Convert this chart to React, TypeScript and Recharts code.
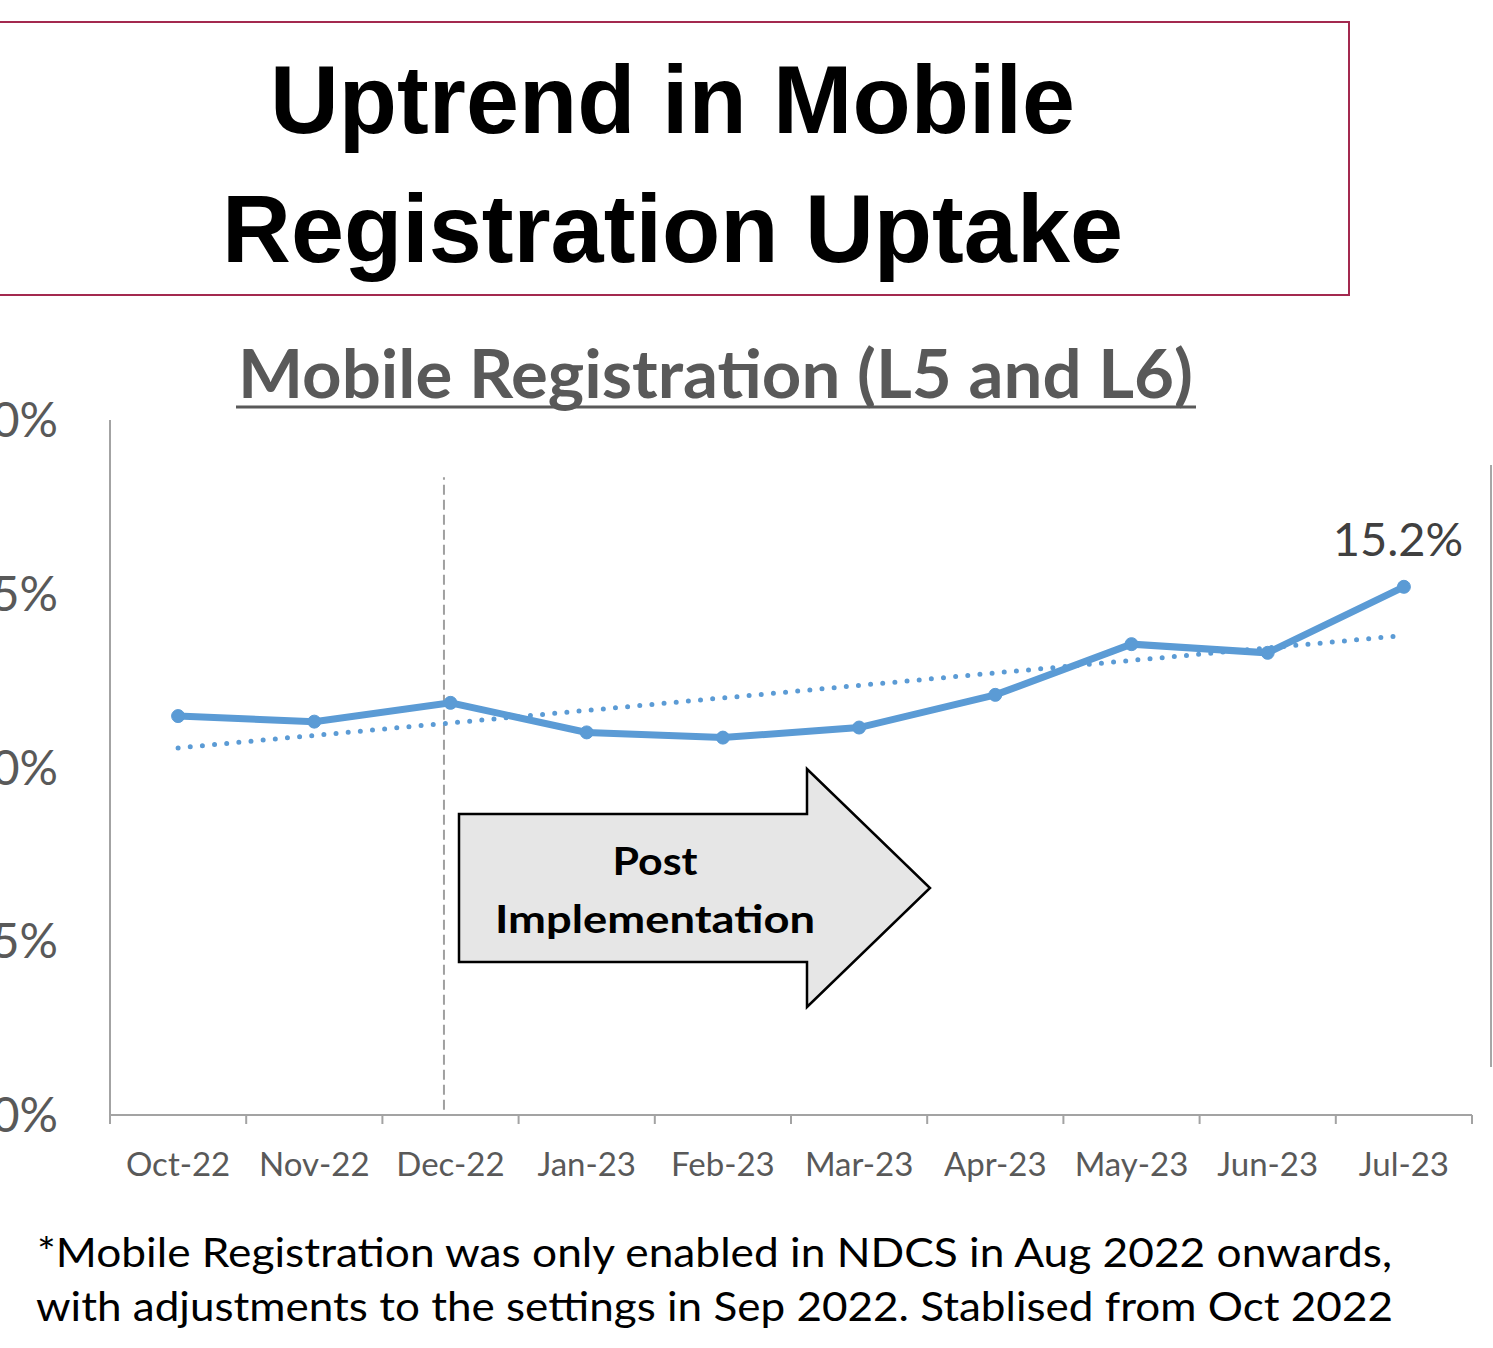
import React from "react";
import { LineChart, Line, XAxis, YAxis, ReferenceLine, LabelList } from "recharts";

const categories = ["Oct-22", "Nov-22", "Dec-22", "Jan-23", "Feb-23", "Mar-23", "Apr-23", "May-23", "Jun-23", "Jul-23"];
const registrationPct = [11.48, 11.32, 11.86, 11.01, 10.86, 11.15, 12.09, 13.55, 13.3, 15.2];
const yTicks = [0, 5, 10, 15, 20];
const xBoundaryTicks = [-0.5, 0.5, 1.5, 2.5, 3.5, 4.5, 5.5, 6.5, 7.5, 8.5, 9.5];
const implementationX = 1.952;
const implementationTop = 18.35;

// Linear (least-squares) trendline of the series, as in the source chart
const n = registrationPct.length;
const meanX = (n - 1) / 2;
const meanY = registrationPct.reduce((a, b) => a + b, 0) / n;
let sxy = 0;
let sxx = 0;
registrationPct.forEach((v, i) => {
  sxy += (i - meanX) * (v - meanY);
  sxx += (i - meanX) * (i - meanX);
});
const slope = sxy / sxx;
const intercept = meanY - slope * meanX;

const data = categories.map((c, i) => ({
  idx: i,
  month: c,
  value: registrationPct[i],
  trend: intercept + slope * i,
}));

const W = 1493;
const H = 1200;
const MARGIN = { top: 420, right: 21, left: 0, bottom: 0 };
const YAXIS_W = 110;
const BAND = (W - MARGIN.right - MARGIN.left - YAXIS_W) / categories.length;

const BLUE = "#5B9BD5";
const AXIS = "#A3A3A3";
const LABEL = "#595959";
const FONT = "Lato, 'Open Sans', sans-serif";

const XTick = (props: any) => {
  const { x, y, payload } = props;
  const i = Math.round(payload.value + 0.5);
  if (i < 0 || i >= categories.length) return <g />;
  return (
    <text
      x={x + BAND / 2}
      y={y + 39}
      textAnchor="middle"
      dominantBaseline="central"
      fill={LABEL}
      fontSize={33}
      fontFamily={FONT}
    >
      {categories[i]}
    </text>
  );
};

const LastLabel = (props: any) => {
  const { x, y, index, value } = props;
  if (index !== categories.length - 1) return null;
  return (
    <text
      x={x - 6}
      y={y - 49}
      textAnchor="middle"
      dominantBaseline="central"
      fill="#404040"
      fontSize={47}
      fontFamily={FONT}
    >
      {`${Number(value).toFixed(1)}%`}
    </text>
  );
};

export default function App() {
  return (
    <div
      style={{
        position: "absolute",
        left: 0,
        top: 0,
        width: W,
        height: 1348,
        overflow: "hidden",
        background: "#fff",
        fontFamily: FONT,
      }}
    >
      {/* Title box */}
      <div
        style={{
          position: "absolute",
          left: -6,
          top: 21,
          width: 1356,
          height: 275,
          border: "2px solid #A3294F",
          boxSizing: "border-box",
        }}
      />
      {/* right-edge partial border */}
      <div style={{ position: "absolute", left: 1490, top: 465, width: 2, height: 602, background: "#A6A6A6" }} />

      <div style={{ position: "absolute", left: 0, top: 0 }}>
        <LineChart width={W} height={H} data={data} margin={MARGIN}>
          <XAxis
            dataKey="idx"
            type="number"
            domain={[-0.5, 9.5]}
            ticks={xBoundaryTicks}
            interval={0}
            allowDecimals
            height={H - 1115}
            axisLine={{ stroke: AXIS, strokeWidth: 2 }}
            tickLine={{ stroke: AXIS, strokeWidth: 2 }}
            tickSize={9}
            tickMargin={0}
            tick={<XTick />}
          />
          <YAxis
            type="number"
            domain={[0, 20]}
            ticks={yTicks}
            interval={0}
            width={YAXIS_W}
            axisLine={{ stroke: AXIS, strokeWidth: 2 }}
            tickLine={false}
            tickSize={0}
            tickMargin={52}
            tickFormatter={(v: number) => `${v}%`}
            tick={{ fill: LABEL, fontSize: 48, fontFamily: FONT }}
          />
          <ReferenceLine
            segment={[
              { x: implementationX, y: 0.15 },
              { x: implementationX, y: implementationTop },
            ]}
            stroke="#A0A0A0"
            strokeWidth={2}
            strokeDasharray="10 5"
            ifOverflow="visible"
          />
          <Line
            dataKey="trend"
            stroke={BLUE}
            strokeWidth={5}
            strokeDasharray="0 12.2"
            strokeLinecap="round"
            dot={false}
            activeDot={false}
            isAnimationActive={false}
          />
          <Line
            dataKey="value"
            stroke={BLUE}
            strokeWidth={7}
            dot={{ r: 6.5, fill: BLUE, stroke: BLUE, strokeWidth: 1 }}
            activeDot={false}
            isAnimationActive={false}
          >
            <LabelList dataKey="value" content={<LastLabel />} />
          </Line>
        </LineChart>
      </div>

      <svg
        width={W}
        height={1348}
        style={{ position: "absolute", left: 0, top: 0, pointerEvents: "none" }}
      >
        <text
          x={270}
          y={133}
          textLength={805}
          lengthAdjust="spacingAndGlyphs"
          fontFamily="'Liberation Sans', Arial, sans-serif"
          fontWeight="bold"
          fontSize={97}
          fill="#000"
        >
          Uptrend in Mobile
        </text>
        <text
          x={222}
          y={262}
          textLength={901}
          lengthAdjust="spacingAndGlyphs"
          fontFamily="'Liberation Sans', Arial, sans-serif"
          fontWeight="bold"
          fontSize={97}
          fill="#000"
        >
          Registration Uptake
        </text>

        <text
          x={238}
          y={398}
          textLength={955}
          lengthAdjust="spacingAndGlyphs"
          fontFamily={FONT}
          fontWeight="bold"
          fontSize={66}
          fill={LABEL}
        >
          Mobile Registration (L5 and L6)
        </text>
        <line x1={236} x2={1196} y1={407} y2={407} stroke={LABEL} strokeWidth={3} />

        <polygon
          points="459,814 807,814 807,769 930,888 807,1007 807,962 459,962"
          fill="#E6E6E6"
          stroke="#000"
          strokeWidth={2.5}
          strokeLinejoin="miter"
        />
        <text
          x={655}
          y={875}
          textAnchor="middle"
          textLength={85}
          lengthAdjust="spacingAndGlyphs"
          fontFamily={FONT}
          fontWeight="bold"
          fontSize={39}
          fill="#000"
        >
          Post
        </text>
        <text
          x={655}
          y={933}
          textAnchor="middle"
          textLength={320}
          lengthAdjust="spacingAndGlyphs"
          fontFamily={FONT}
          fontWeight="bold"
          fontSize={39}
          fill="#000"
        >
          Implementation
        </text>

        <text
          x={37}
          y={1267}
          textLength={1355}
          lengthAdjust="spacingAndGlyphs"
          fontFamily={FONT}
          fontSize={40}
          fill="#000"
        >
          *Mobile Registration was only enabled in NDCS in Aug 2022 onwards,
        </text>
        <text
          x={36}
          y={1321}
          textLength={1357}
          lengthAdjust="spacingAndGlyphs"
          fontFamily={FONT}
          fontSize={40}
          fill="#000"
        >
          with adjustments to the settings in Sep 2022. Stablised from Oct 2022
        </text>
      </svg>
    </div>
  );
}
